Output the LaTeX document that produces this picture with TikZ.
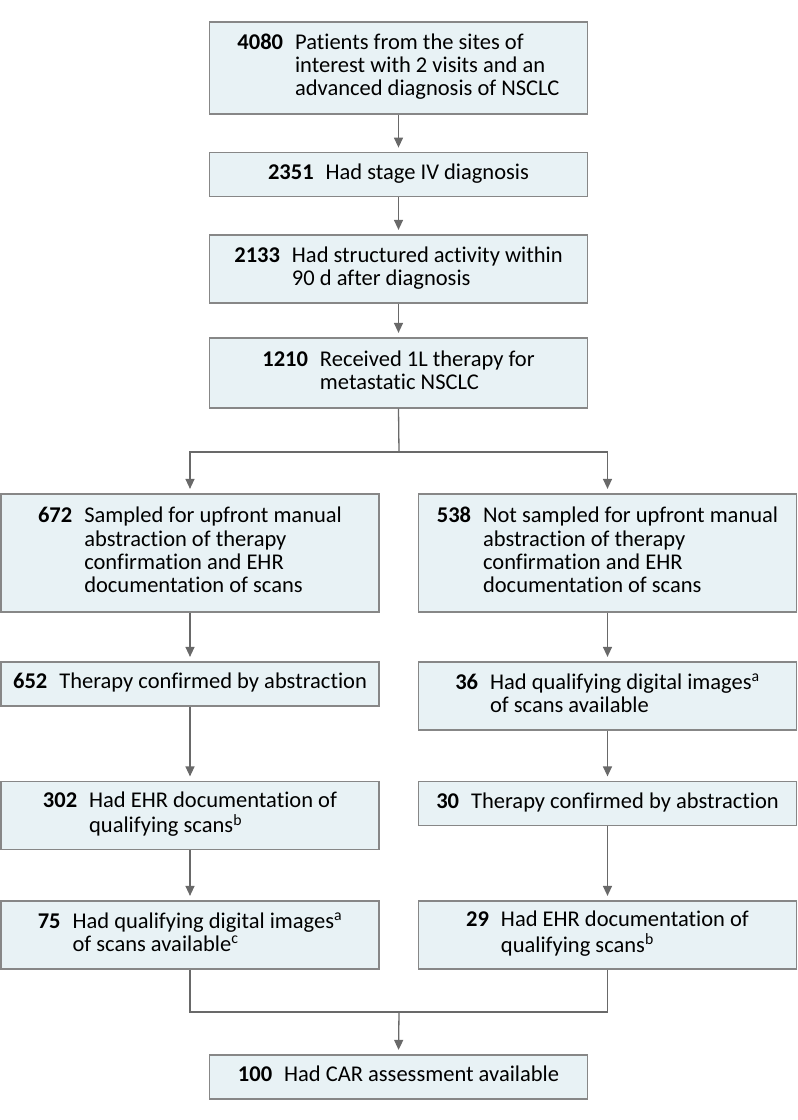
\documentclass[tikz,border=0pt]{standalone}
\usepackage{fontspec}
\setmainfont{Carlito}[Ligatures=NoCommon]
\usetikzlibrary{arrows.meta}
\definecolor{boxfill}{RGB}{232,242,245}
\definecolor{boxline}{RGB}{135,135,135}
\definecolor{arrline}{RGB}{105,105,105}
\newcommand\flowentry[2]{\textbf{#1}\hspace{12pt}\begin{tabular}[t]{@{}l@{}}#2\end{tabular}}
\begin{document}
\begin{tikzpicture}[x=1pt,y=-1pt,
  box/.style={draw=boxline, fill=boxfill, line width=1.2pt, minimum width=378pt, inner sep=0pt,
    font=\fontsize{22.5}{23.3}\selectfont},
  arr/.style={draw=arrline, line width=1.3pt, -{Triangle[width=9pt,length=10pt]}, shorten >=4.5pt},
  ln/.style={draw=arrline, line width=1.3pt}]
\useasboundingbox (0,0) rectangle (798,1120);
\node[box, minimum height=92pt] (b1) at (398.5,68) {\flowentry{4080}{Patients from the sites of\\interest with 2 visits and an\\advanced diagnosis of NSCLC}};
\node[box, minimum height=44pt] (b2) at (398.5,174.7) {\flowentry{2351}{Had stage IV diagnosis}};
\node[box, minimum height=68pt] (b3) at (398.5,269) {\flowentry{2133}{Had structured activity within\\90 d after diagnosis}};
\node[box, minimum height=70pt] (b4) at (398.5,373) {\flowentry{1210}{Received 1L therapy for\\metastatic NSCLC}};
\node[box, minimum height=118pt] (L1) at (190,553) {\flowentry{672}{Sampled for upfront manual\\abstraction of therapy\\confirmation and EHR\\documentation of scans}};
\node[box, minimum height=118pt] (R1) at (607.5,553) {\flowentry{538}{Not sampled for upfront manual\\abstraction of therapy\\confirmation and EHR\\documentation of scans}};
\node[box, minimum height=44pt] (L2) at (190,684) {\flowentry{652}{Therapy confirmed by abstraction}};
\node[box, minimum height=68pt] (R2) at (607.5,696) {\flowentry{36}{Had qualifying digital images\textsuperscript{a}\\of scans available}};
\node[box, minimum height=68pt] (L3) at (190,815.5) {\flowentry{302}{Had EHR documentation of\\qualifying scans\textsuperscript{b}}};
\node[box, minimum height=44pt] (R3) at (607.5,803.5) {\flowentry{30}{Therapy confirmed by abstraction}};
\node[box, minimum height=68pt] (L4) at (190,935) {\flowentry{75}{Had qualifying digital images\textsuperscript{a}\\of scans available\textsuperscript{c}}};
\node[box, minimum height=68pt] (R4) at (607.5,935) {\flowentry{29}{Had EHR documentation of\\qualifying scans\textsuperscript{b}}};
\node[box, minimum height=44pt] (B) at (398.5,1077) {\flowentry{100}{Had CAR assessment available}};
\coordinate (sp) at (399,452);
\coordinate (mg) at (399,1012);
\draw[arr] (b1.south) -- (b2.north);
\draw[arr] (b2.south) -- (b3.north);
\draw[arr] (b3.south) -- (b4.north);
\draw[ln] (b4.south) -- (sp);
\draw[arr] (sp) -| (L1.north);
\draw[arr] (sp) -| (R1.north);
\draw[arr] (L1.south) -- (L2.north);
\draw[arr] (L2.south) -- (L3.north);
\draw[arr] (L3.south) -- (L4.north);
\draw[arr] (R1.south) -- (R2.north);
\draw[arr] (R2.south) -- (R3.north);
\draw[arr] (R3.south) -- (R4.north);
\draw[ln] (L4.south) |- (mg);
\draw[ln] (R4.south) |- (mg);
\draw[arr] (mg) -- (B.north);
\end{tikzpicture}
\end{document}
